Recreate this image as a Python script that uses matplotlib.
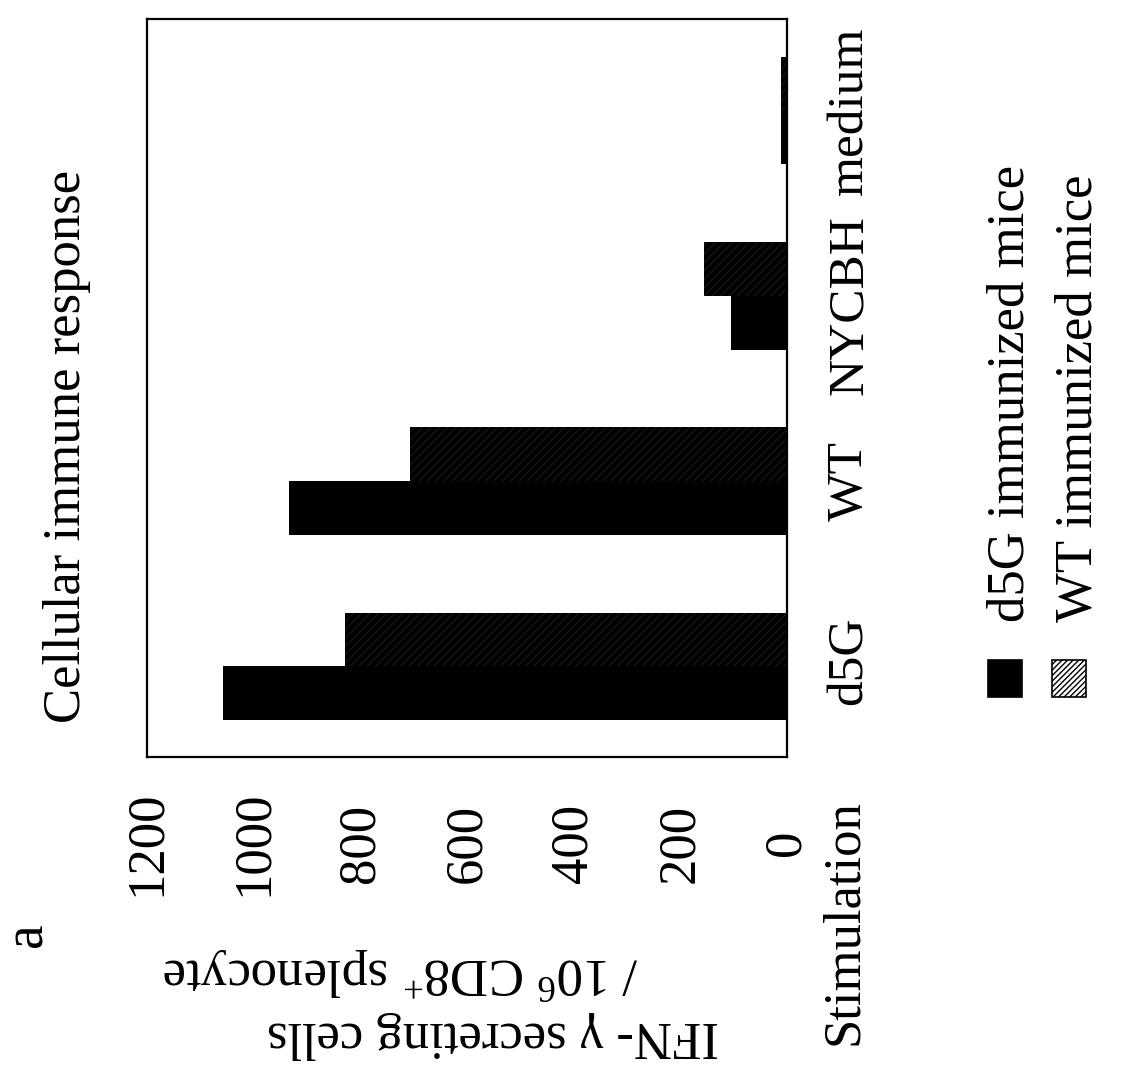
import numpy as np
import matplotlib
matplotlib.use("Agg")
import matplotlib.pyplot as plt
from matplotlib.patches import Rectangle
from matplotlib.transforms import ScaledTranslation

# ---- data ----
categories = ["d5G", "WT", "NYCBH", "medium"]
series_names = ["d5G immunized mice", "WT immunized mice"]
d5g_immunized = [1058, 934, 105, 12]
wt_immunized = [829, 707, 156, 12]
value_ticks = [0, 200, 400, 600, 800, 1000, 1200]
value_tick_labels = ["0", "200", "400", "600", "800", "1000", "1200"]

plt.rcParams["font.family"] = ["Liberation Serif", "DejaVu Serif"]
plt.rcParams["mathtext.fontset"] = "custom"
plt.rcParams["mathtext.rm"] = "Liberation Serif"
plt.rcParams["mathtext.it"] = "Liberation Serif:italic"
plt.rcParams["hatch.linewidth"] = 1.0

W, H = 1125, 1067
fig = plt.figure(figsize=(W / 100, H / 100), dpi=100)
fig.patch.set_facecolor("white")


def fx(x):
    return x / W


def fy(y):
    return 1 - y / H


ax = fig.add_axes([fx(147), fy(757), (787 - 147) / W, (757 - 19) / H])

pos = np.arange(len(categories))
bh = 0.29
ax.barh(pos - bh / 2, d5g_immunized, height=bh, color="black", edgecolor="black", linewidth=0)
ax.barh(pos + bh / 2, wt_immunized, height=bh, color="black", edgecolor="#151515",
        hatch="////", linewidth=0)

ax.set_xlim(1200, 0)
ax.set_ylim(-0.49, 3.495)

for s in ax.spines.values():
    s.set_linewidth(1.6)
    s.set_color("black")

fs = 38
ax.set_xticks(value_ticks)
ax.set_xticklabels(value_tick_labels, rotation=90, ha="center", va="center",
                   rotation_mode="anchor", fontsize=fs)
ax.tick_params(axis="x", length=0, pad=62)

ax.yaxis.tick_right()
ax.set_yticks(pos)
ax.set_yticklabels(categories, rotation=90, ha="center", va="baseline",
                   rotation_mode="anchor", fontsize=37)
ax.tick_params(axis="y", length=0, pad=54)
# small vertical shifts of category labels as typeset in the original
shifts_px = [6, 0, -9, 0]
for lab, sh in zip(ax.get_yticklabels(), shifts_px):
    lab.set_transform(lab.get_transform() + ScaledTranslation(0, sh / 100, fig.dpi_scale_trans))

# title (rotated)
fig.text(fx(80), fy(723), "Cellular immune response", rotation=90,
         rotation_mode="anchor", ha="left", va="baseline", fontsize=fs)

# panel letter
fig.text(fx(42), fy(935), "a", rotation=90, rotation_mode="anchor",
         ha="center", va="baseline", fontsize=40)

# value-axis label (upside down)
fig.text(fx(493), fy(1022), "IFN- \u03b3 secreting cells", rotation=180,
         rotation_mode="anchor", ha="center", va="baseline", fontsize=fs)
fig.text(fx(401), fy(957), r"/ 10$^{\mathrm{6}}$ CD8$^{\mathrm{+}}$ splenocyte", rotation=180,
         rotation_mode="anchor", ha="center", va="baseline", fontsize=fs)

# category axis label
fig.text(fx(857), fy(1045), "Stimulation", rotation=90, rotation_mode="anchor",
         ha="left", va="baseline", fontsize=fs)

# legend (rotated)
leg_x = [988, 1052]
leg_base = [1023, 1092]
faces = ["black", "white"]
hatches = [None, "//////"]
for i, name in enumerate(series_names):
    r = Rectangle((fx(leg_x[i]), fy(697)), 34 / W, 37 / H, transform=fig.transFigure,
                  facecolor=faces[i], edgecolor="black", hatch=hatches[i], linewidth=1.2)
    fig.add_artist(r)
    fig.text(fx(leg_base[i]), fy(622), name, rotation=90, rotation_mode="anchor",
             ha="left", va="baseline", fontsize=fs)

fig.savefig("out.png", dpi=100, facecolor="white")
